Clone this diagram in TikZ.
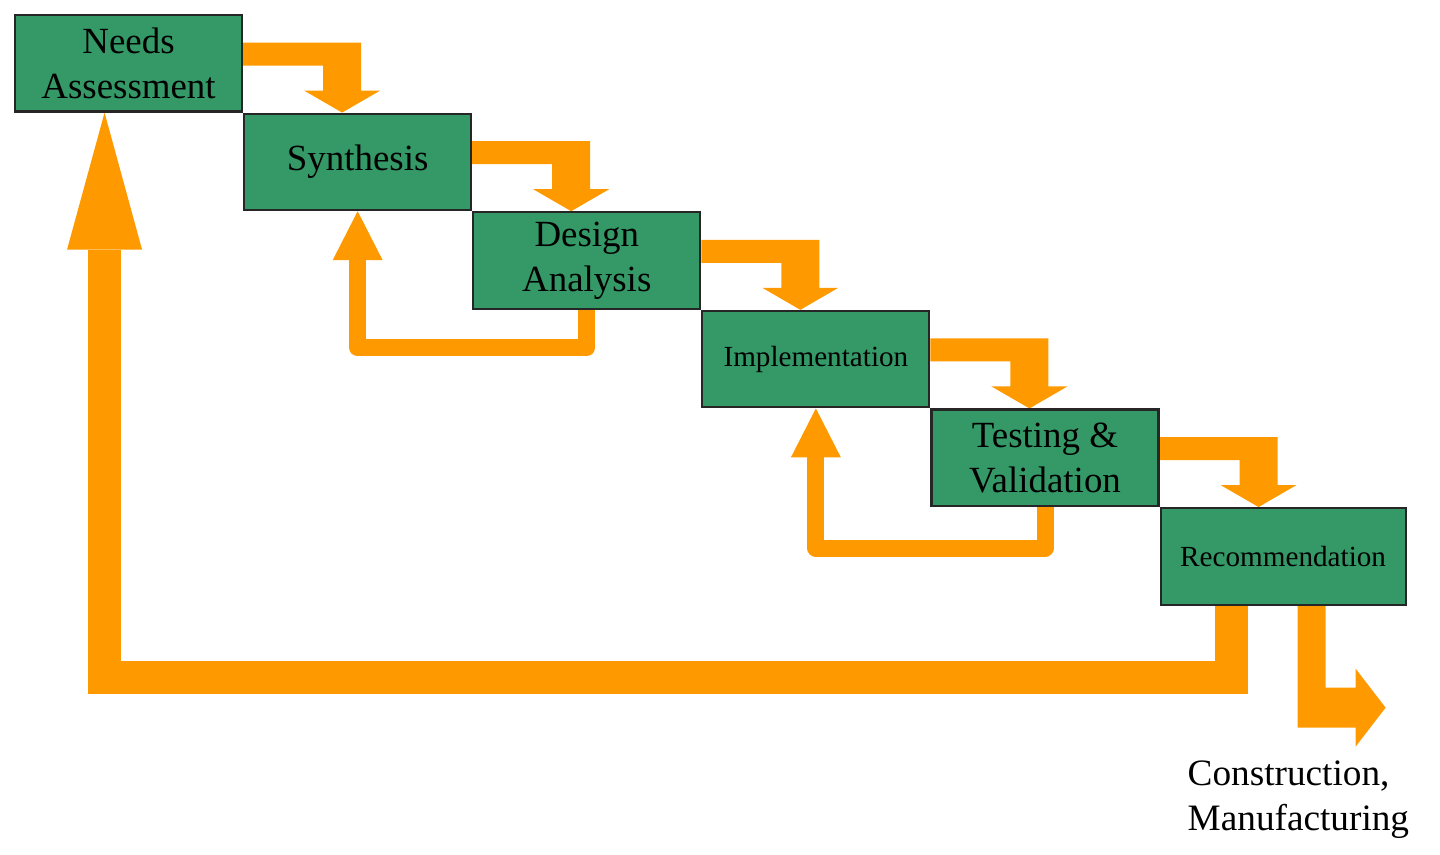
\documentclass[tikz,border=0pt]{standalone}
\usepackage{fontspec}
\setmainfont{Liberation Serif}
\usetikzlibrary{arrows.meta,positioning,calc,backgrounds}
\definecolor{stepgreen}{RGB}{52,153,102}
\definecolor{flowarrow}{RGB}{255,153,0}
\newcommand{\stairarrow}[2]{%
  \fill[flowarrow] ($(#1.south east)+(0,0.70)$) -- ++(1.18,0) -- ++(0,-0.48) -- ++(0.19,0)
    -- ($(#2.north west)+(0.99,0)$) -- ++(-0.38,0.22) -- ++(0.19,0) -- ++(0,0.25)
    -- ($(#1.south east)+(0,0.47)$) -- cycle;}

\begin{document}
\begin{tikzpicture}[
  stepbox/.style={draw=black!85, line width=0.6pt, fill=stepgreen, rectangle, minimum width=2.27cm, minimum height=0.965cm, align=center, inner sep=1pt, font=\fontsize{10.5}{12.8}\selectfont},
  smallbox/.style={stepbox, font=\fontsize{8.3}{10}\selectfont},
  backflow/.style={flowarrow, line width=0.17cm, line join=round, -{Triangle[width=0.50cm,length=0.49cm,line width=0pt]}},
  bigflow/.style={flowarrow, line width=0.33cm, line join=miter, -{Triangle[width=0.75cm,length=1.37cm,line width=0pt]}},
  outlabel/.style={anchor=west, align=left, inner sep=0pt, font=\fontsize{10.6}{12.8}\selectfont}
]
\useasboundingbox (0,0) rectangle (14.40,-8.55);

\node[stepbox, anchor=north west] (need) at (0.14,-0.14) {Needs\\Assessment};
\node[stepbox, anchor=north west] (syn) at (need.south east) {Synthesis};
\node[stepbox, anchor=north west] (des) at (syn.south east) {Design\\Analysis};
\node[smallbox, anchor=north west] (imp) at (des.south east) {Implementation};
\node[stepbox, anchor=north west] (tst) at (imp.south east) {Testing \&\\Validation};
\node[smallbox, anchor=north west, minimum width=2.45cm] (rec) at (tst.south east) {Recommendation};
\node[outlabel] (prod) at (11.87,-8.00) {Construction,\\Manufacturing};

\begin{scope}[on background layer]
\stairarrow{need}{syn}
\stairarrow{syn}{des}
\stairarrow{des}{imp}
\stairarrow{imp}{tst}
\stairarrow{tst}{rec}
\draw[backflow] (des.south) -- ++(0,-0.38) -| (syn.south);
\draw[backflow] (tst.south) -- ++(0,-0.41) -| (imp.south);
\draw[bigflow] ($(rec.south)+(-0.52,0)$) -- ++(0,-0.72) -| ($(need.south)+(-0.24,0)$);
\fill[flowarrow] ($(rec.south)+(0.145,0)$) -- ++(0.28,0) -- ++(0,-0.82) -- ++(0.30,0) -- ++(0,0.19)
  -- ++(0.30,-0.39) -- ++(-0.30,-0.39) -- ++(0,0.19) -- ++(-0.58,0) -- cycle;
\end{scope}
\end{tikzpicture}
\end{document}
